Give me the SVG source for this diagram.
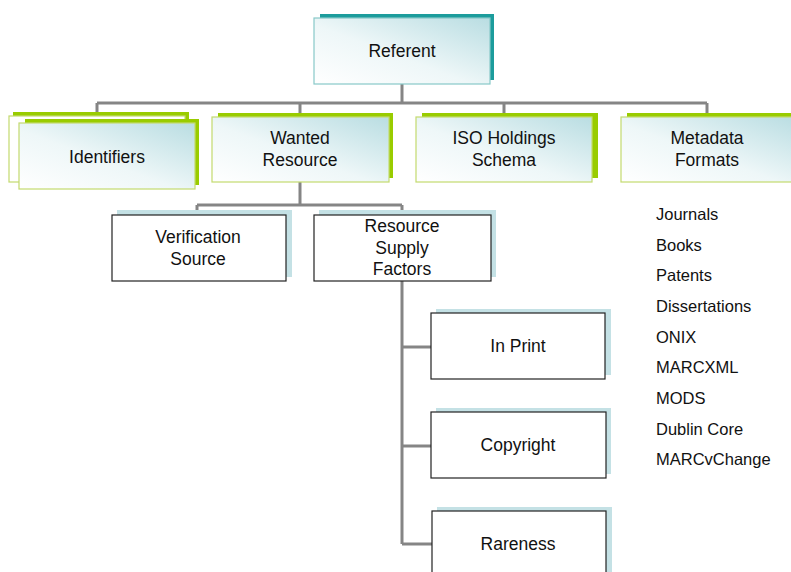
<svg xmlns="http://www.w3.org/2000/svg" width="791" height="572" viewBox="0 0 791 572">
<defs>
<linearGradient id="gfill" x1="0" y1="1" x2="1" y2="0">
<stop offset="0" stop-color="#ffffff"/>
<stop offset="0.45" stop-color="#eef7f8"/>
<stop offset="1" stop-color="#b9dde2"/>
</linearGradient>
<style>
.conn{fill:none;stroke:#858585;stroke-width:3}
.tshadow{fill:#1c9c9c}
.gshadow{fill:#99cc00}
.bshadow{fill:#c4e1e5}
.tbox{fill:url(#gfill);stroke:#88c9c9;stroke-width:1.2}
.gbox{fill:url(#gfill);stroke:#c3da6e;stroke-width:1.2}
.wbox{fill:#ffffff;stroke:#222;stroke-width:1.2}
.plain{fill:#ffffff;stroke:#c3da6e;stroke-width:1.2}
text{font-family:"Liberation Sans",Arial,sans-serif;fill:#111}
.n{font-size:17.5px;text-anchor:middle}
.l{font-size:16.5px}
</style>
</defs>
<rect width="791" height="572" fill="#ffffff"/>
<g id="connectors">
<path class="conn" d="M402 84 V103 M97 103 H707 M97 103 V112 M300 103 V117 M504 103 V116 M707 103 V117"/>
<path class="conn" d="M300 182 V205 M197 205 H402 M197 205 V215 M402 205 V215"/>
<path class="conn" d="M402 281 V544 M402 347 H431 M402 446 H431 M402 544 H432"/>
</g>
<g id="referent">
<rect class="tshadow" x="320" y="14" width="174" height="66"/>
<rect class="tbox" x="314" y="18" width="176" height="66"/>
<text class="n" x="402" y="57">Referent</text>
</g>
<g id="identifiers">
<rect class="gshadow" x="13" y="112" width="176" height="66"/>
<rect class="plain" x="9" y="116" width="176" height="66"/>
<rect class="gshadow" x="25" y="119" width="174" height="66"/>
<rect class="gbox" x="19" y="123" width="176" height="66"/>
<text class="n" x="107" y="163">Identifiers</text>
</g>
<g id="wanted-resource">
<rect class="gshadow" x="218" y="113" width="175" height="65"/>
<rect class="gbox" x="212" y="117" width="177" height="65"/>
<text class="n" x="300" y="144">Wanted</text>
<text class="n" x="300" y="166">Resource</text>
</g>
<g id="iso-holdings">
<rect class="gshadow" x="422" y="113" width="176" height="65"/>
<rect class="gbox" x="416" y="117" width="176" height="65"/>
<text class="n" x="504" y="144">ISO Holdings</text>
<text class="n" x="504" y="166">Schema</text>
</g>
<g id="metadata-formats">
<rect class="gshadow" x="627" y="113" width="176" height="65"/>
<rect class="gbox" x="621" y="117" width="176" height="65"/>
<text class="n" x="707" y="144">Metadata</text>
<text class="n" x="707" y="166">Formats</text>
</g>
<g id="verification-source">
<rect class="bshadow" x="117" y="210" width="175" height="67"/>
<rect class="wbox" x="112" y="215" width="174" height="66"/>
<text class="n" x="198" y="243">Verification</text>
<text class="n" x="198" y="265">Source</text>
</g>
<g id="resource-supply-factors">
<rect class="bshadow" x="319" y="210" width="177" height="67"/>
<rect class="wbox" x="314" y="215" width="177" height="66"/>
<text class="n" x="402" y="232">Resource</text>
<text class="n" x="402" y="254">Supply</text>
<text class="n" x="402" y="275">Factors</text>
</g>
<g id="in-print">
<rect class="bshadow" x="436" y="309" width="175" height="66"/>
<rect class="wbox" x="431" y="313" width="174" height="66"/>
<text class="n" x="518" y="352">In Print</text>
</g>
<g id="copyright">
<rect class="bshadow" x="436" y="408" width="175" height="66"/>
<rect class="wbox" x="431" y="412" width="175" height="66"/>
<text class="n" x="518" y="451">Copyright</text>
</g>
<g id="rareness">
<rect class="bshadow" x="437" y="507" width="175" height="70"/>
<rect class="wbox" x="432" y="511" width="174" height="70"/>
<text class="n" x="518" y="550">Rareness</text>
</g>
<g id="format-list">
<text class="l" x="656" y="220">Journals</text>
<text class="l" x="656" y="251">Books</text>
<text class="l" x="656" y="281">Patents</text>
<text class="l" x="656" y="312">Dissertations</text>
<text class="l" x="656" y="343">ONIX</text>
<text class="l" x="656" y="373">MARCXML</text>
<text class="l" x="656" y="404">MODS</text>
<text class="l" x="656" y="435">Dublin Core</text>
<text class="l" x="656" y="465">MARCvChange</text>
</g>
</svg>
